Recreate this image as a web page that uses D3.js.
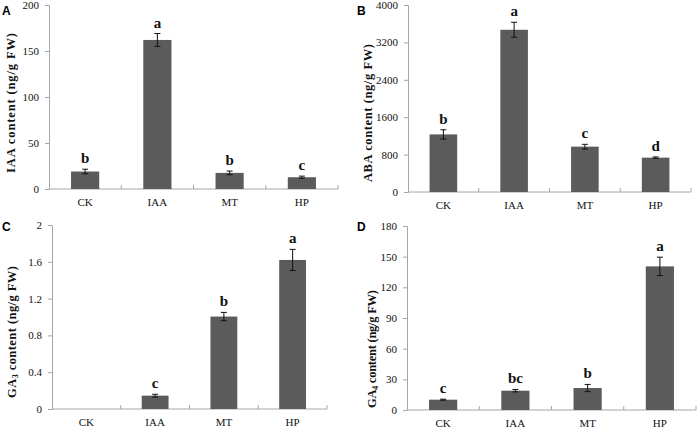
<!DOCTYPE html>
<html><head><meta charset="utf-8">
<script src="https://cdn.jsdelivr.net/npm/d3@7"></script>
<style>body{margin:0;background:#fff}svg{display:block}</style>
</head><body>
<svg id="chart" width="698" height="428"></svg>
<script>
const categories = ["CK", "IAA", "MT", "HP"];

const iaaValues = [19, 162, 17.5, 12.8];
const iaaErrors = [2.5, 7, 2, 1.2];
const iaaLetters = ["b", "a", "b", "c"];
const iaaTicks = [0, 50, 100, 150, 200];

const abaValues = [1232, 3470, 970, 735];
const abaErrors = [100, 160, 50, 15];
const abaLetters = ["b", "a", "c", "d"];
const abaTicks = [0, 800, 1600, 2400, 3200, 4000];

const ga3Values = [0, 0.145, 1.005, 1.62];
const ga3Errors = [0, 0.015, 0.045, 0.115];
const ga3Letters = ["", "c", "b", "a"];
const ga3Ticks = [0, 0.4, 0.8, 1.2, 1.6, 2];

const ga4Values = [10.1, 18.9, 21.5, 140.5];
const ga4Errors = [0.5, 1.2, 3.5, 9];
const ga4Letters = ["c", "bc", "b", "a"];
const ga4Ticks = [0, 30, 60, 90, 120, 150, 180];

const panels = [
  {id:"A", values:iaaValues, errors:iaaErrors, letters:iaaLetters, ticks:iaaTicks,
   title:["IAA  content (ng/g FW)"], sub:null,
   L:49, R:338, T:5, B:189, tx:15, ty:103, tl:140, lx:2, ly:15},
  {id:"B", values:abaValues, errors:abaErrors, letters:abaLetters, ticks:abaTicks,
   title:["ABA content (ng/g FW)"], sub:null,
   L:408, R:691, T:5, B:192, tx:372, ty:113, tl:138, lx:357, ly:15},
  {id:"C", values:ga3Values, errors:ga3Errors, letters:ga3Letters, ticks:ga3Ticks,
   title:["GA","3"," content (ng/g FW)"], sub:true,
   L:52, R:327, T:225, B:409, tx:16, ty:332, tl:132, lx:2, ly:231},
  {id:"D", values:ga4Values, errors:ga4Errors, letters:ga4Letters, ticks:ga4Ticks,
   title:["GA","4"," content (ng/g FW)"], sub:true,
   L:407, R:696, T:226, B:410, tx:376, ty:349, tl:118, lx:357, ly:231}
];

const svg = d3.select("#chart");
const serif = "'Liberation Serif','Times New Roman',serif";
const axisColor = "#a6a6a6";
const barColor = "#5b5b5b";

panels.forEach(p => {
  const x = d3.scaleBand().domain(categories).range([p.L, p.R]).paddingInner(0).paddingOuter(0);
  const ymax = p.ticks[p.ticks.length-1];
  const y = d3.scaleLinear().domain([0, ymax]).range([p.B, p.T]);
  const g = svg.append("g");
  const bw = x.bandwidth() * 0.39;

  // y axis
  const ya = g.append("g").attr("transform", `translate(${p.L},0)`)
    .call(d3.axisLeft(y).tickValues(p.ticks).tickSize(4).tickPadding(6).tickFormat(d => String(d)));
  ya.select(".domain").attr("stroke", axisColor);
  ya.selectAll(".tick line").attr("stroke", axisColor);
  ya.selectAll("text").attr("font-family", serif).attr("font-size", 11).attr("fill", "#111");

  // x axis (ticks at boundaries, pointing up)
  g.append("line").attr("x1", p.L).attr("x2", p.R).attr("y1", p.B).attr("y2", p.B).attr("stroke", axisColor);
  const bounds = categories.map(c => x(c)).slice(1).concat([p.R]);
  g.selectAll(".xt").data(bounds).enter().append("line")
    .attr("x1", d => d).attr("x2", d => d).attr("y1", p.B).attr("y2", p.B - 4).attr("stroke", axisColor);
  g.selectAll(".xl").data(categories).enter().append("text")
    .attr("x", d => x(d) + x.bandwidth()/2).attr("y", p.B + 17)
    .attr("text-anchor", "middle").attr("font-family", serif).attr("font-size", 11).attr("fill", "#111")
    .text(d => d);

  const data = categories.map((c, i) => ({c, v:p.values[i], e:p.errors[i], l:p.letters[i]}));
  const cx = d => x(d.c) + x.bandwidth()/2;

  g.selectAll(".bar").data(data.filter(d => d.v > 0)).enter().append("rect")
    .attr("x", d => cx(d) - bw/2).attr("width", bw)
    .attr("y", d => y(d.v)).attr("height", d => p.B - y(d.v)).attr("fill", barColor);

  const eb = g.selectAll(".eb").data(data.filter(d => d.v > 0)).enter().append("g").attr("stroke", "#111").attr("stroke-width", 1);
  eb.append("line").attr("x1", cx).attr("x2", cx).attr("y1", d => y(d.v + d.e)).attr("y2", d => y(d.v - d.e));
  eb.append("line").attr("x1", d => cx(d) - 3).attr("x2", d => cx(d) + 3).attr("y1", d => y(d.v + d.e)).attr("y2", d => y(d.v + d.e));
  eb.append("line").attr("x1", d => cx(d) - 3).attr("x2", d => cx(d) + 3).attr("y1", d => y(d.v - d.e)).attr("y2", d => y(d.v - d.e));

  g.selectAll(".lt").data(data.filter(d => d.l)).enter().append("text")
    .attr("x", cx).attr("y", d => y(d.v + d.e) - 6)
    .attr("text-anchor", "middle").attr("font-family", serif).attr("font-weight", "bold")
    .attr("font-size", 15).attr("fill", "#111").text(d => d.l);

  // y title
  const t = g.append("text").attr("transform", `translate(${p.tx},${p.ty}) rotate(-90)`)
    .attr("text-anchor", "middle").attr("font-family", serif).attr("font-weight", "bold")
    .attr("font-size", 12.5).attr("fill", "#111")
    .attr("textLength", p.tl).attr("lengthAdjust", "spacing");
  if (p.sub) {
    t.append("tspan").text(p.title[0]);
    t.append("tspan").attr("font-size", 8).attr("dy", 2).text(p.title[1]);
    t.append("tspan").attr("dy", -2).text(p.title[2]);
  } else {
    t.text(p.title[0]);
  }

  // panel letter
  g.append("text").attr("x", p.lx).attr("y", p.ly).attr("font-family", "'Liberation Sans',Arial,sans-serif")
    .attr("font-weight", "bold").attr("font-size", 12).attr("fill", "#000").text(p.id);
});
</script>
</body></html>
